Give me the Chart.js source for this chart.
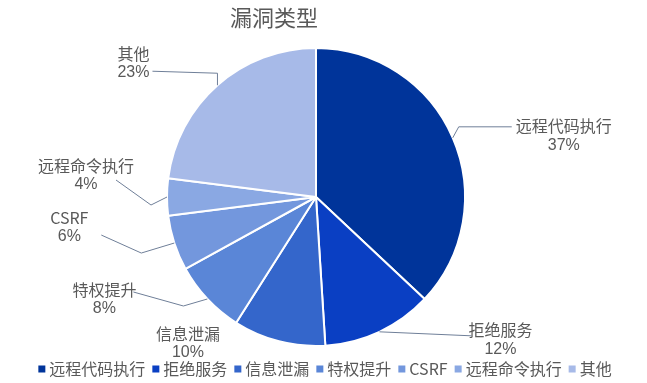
<!DOCTYPE html>
<html><head><meta charset="utf-8">
<script src="https://cdn.jsdelivr.net/npm/chart.js@4/dist/chart.umd.min.js"></script>
<style>html,body{margin:0;padding:0;background:#fff}#wrap{width:647px;height:383px;position:relative}</style>
</head><body><div id="wrap"><canvas id="c" width="647" height="383"></canvas></div>
<script>
const chartTitle = '漏洞类型';
const categories = ['远程代码执行', '拒绝服务', '信息泄漏', '特权提升', 'CSRF', '远程命令执行', '其他'];
const values = [37, 12, 10, 8, 6, 4, 23];
const colors = ['#00349A', '#0A3FC3', '#3466CB', '#5A86D7', '#7397DD', '#8AA8E3', '#A7BAE8'];

// label placement: text-block center offset from the slice's outer mid-point, leader line points (offsets)
const labelLayout = [
  { dx: 111, dy: -2, leader: [[6, -11], [59, -11]] },
  { dx: 121, dy: 8, leader: [[92, 4]] },
  { dx: -91, dy: 2, leader: [] },
  { dx: -103, dy: 0, leader: [[-24, 7], [-74, -7]] },
  { dx: -105, dy: -16, leader: [[-33, 10], [-73, -8]] },
  { dx: -81, dy: -22, leader: [[-16, 8], [-51, -17]] },
  { dx: -84, dy: -22, leader: [[0, -12], [-65, -14]] }
];

const FONT = '"Liberation Sans", "Noto Sans CJK SC", sans-serif';
const CJK = '"Noto Sans CJK SC", "Liberation Sans", sans-serif';
const TXT = '#595959';

const decor = {
  id: 'decor',
  afterDraw(chart) {
    const ctx = chart.ctx;
    const meta = chart.getDatasetMeta(0);
    const total = values.reduce((a, b) => a + b, 0);
    ctx.save();
    // data labels with leader lines
    meta.data.forEach((arc, i) => {
      const p = arc.getProps(['x', 'y', 'startAngle', 'endAngle', 'outerRadius'], true);
      const mid = (p.startAngle + p.endAngle) / 2;
      const ax = p.x + Math.cos(mid) * p.outerRadius;
      const ay = p.y + Math.sin(mid) * p.outerRadius;
      const L = labelLayout[i];
      if (L.leader.length) {
        ctx.beginPath();
        ctx.strokeStyle = '#6F7F98';
        ctx.lineWidth = 1;
        ctx.moveTo(ax, ay);
        L.leader.forEach(pt => ctx.lineTo(ax + pt[0], ay + pt[1]));
        ctx.stroke();
      }
      const cx = ax + L.dx, cy = ay + L.dy;
      ctx.fillStyle = TXT;
      ctx.textAlign = 'center';
      ctx.textBaseline = 'middle';
      ctx.font = '16px ' + CJK;
      ctx.fillText(categories[i], cx, cy - 9.5);
      ctx.font = '16px ' + FONT;
      ctx.fillText(Math.round(values[i] / total * 100) + '%', cx, cy + 9.5);
    });
    // title
    ctx.fillStyle = TXT;
    ctx.font = '22px ' + CJK;
    ctx.textAlign = 'center';
    ctx.textBaseline = 'middle';
    ctx.fillText(chartTitle, 274, 18);
    // legend
    ctx.font = '16px ' + CJK;
    const box = 7, gap = 4, sep = 7;
    const widths = categories.map(c => ctx.measureText(c).width);
    const totalW = widths.reduce((a, w) => a + box + gap + w, 0) + sep * (categories.length - 1);
    let x = 325 - totalW / 2;
    const ly = 369;
    ctx.textAlign = 'left';
    categories.forEach((c, i) => {
      ctx.fillStyle = colors[i];
      ctx.fillRect(x, ly - box / 2, box, box);
      x += box + gap;
      ctx.fillStyle = TXT;
      ctx.fillText(c, x, ly);
      x += widths[i] + sep;
    });
    ctx.restore();
  }
};

new Chart(document.getElementById('c'), {
  type: 'pie',
  data: {
    labels: categories,
    datasets: [{
      data: values,
      backgroundColor: colors,
      borderColor: '#ffffff',
      borderWidth: 2
    }]
  },
  options: {
    responsive: false,
    devicePixelRatio: 1,
    animation: false,
    layout: { padding: { top: 47, bottom: 36, left: 0, right: 15 } },
    plugins: { legend: { display: false }, title: { display: false }, tooltip: { enabled: false } }
  },
  plugins: [decor]
});
</script>
</body></html>
